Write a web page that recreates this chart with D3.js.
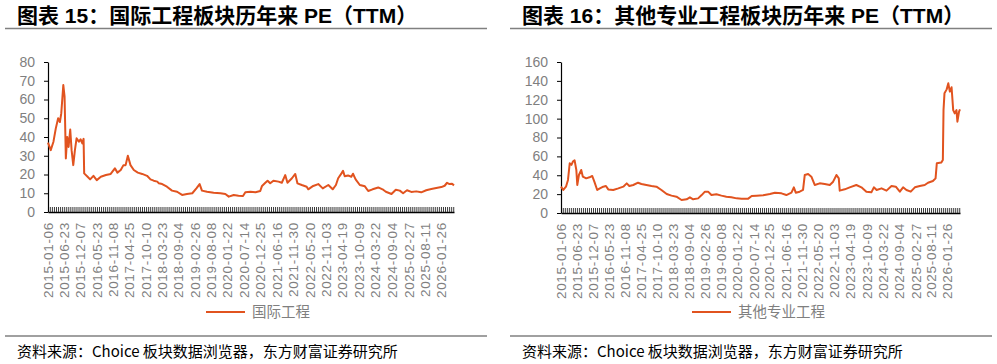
<!DOCTYPE html>
<html>
<head>
<meta charset="utf-8">
<script src="https://cdn.jsdelivr.net/npm/d3@7"></script>
<style>
  html, body { margin: 0; padding: 0; background: #fff; }
  svg { display: block; }
</style>
</head>
<body>
<svg id="chart" width="997" height="364"></svg>
<script>
// ---------------- DATA ----------------
const xTickLabels = [
  "2015-01-06","2015-06-23","2015-12-07","2016-05-23","2016-11-08","2017-04-25",
  "2017-10-10","2018-03-23","2018-09-04","2019-02-26","2019-08-08","2020-01-22",
  "2020-07-14","2020-12-25","2021-06-16","2021-11-30","2022-05-20","2022-11-03",
  "2023-04-19","2023-10-09","2024-03-22","2024-09-04","2025-02-27","2025-08-11",
  "2026-01-26"
];
const dateDomain = ["2015-01-06", "2026-06-01"];

const intlYTicks = [0, 10, 20, 30, 40, 50, 60, 70, 80];
const otherYTicks = [0, 20, 40, 60, 80, 100, 120, 140, 160];

const intlDates = [
  "2015-01-06","2015-02-03","2015-03-03","2015-03-27","2015-04-20","2015-05-08","2015-05-22","2015-06-12",
  "2015-06-25","2015-07-08","2015-07-22","2015-08-05","2015-08-22","2015-09-05","2015-09-22","2015-10-09",
  "2015-10-26","2015-11-19","2015-12-06","2015-12-24","2016-01-06","2016-01-12","2016-02-16","2016-03-13",
  "2016-04-16","2016-05-20","2016-07-01","2016-08-22","2016-10-10","2016-11-22","2016-12-18","2017-01-21",
  "2017-02-18","2017-03-12","2017-04-04","2017-05-01","2017-06-04","2017-07-15","2017-08-29","2017-10-18",
  "2017-11-22","2017-12-25","2018-01-31","2018-02-16","2018-03-22","2018-05-10","2018-07-01","2018-08-22",
  "2018-10-12","2018-12-01","2019-01-25","2019-03-08","2019-04-10","2019-05-04","2019-06-25","2019-09-01",
  "2019-11-10","2019-12-30","2020-02-03","2020-03-25","2020-05-13","2020-06-28","2020-07-22","2020-09-12",
  "2020-11-03","2020-12-22","2021-01-09","2021-02-12","2021-03-07","2021-04-03","2021-05-06","2021-06-27",
  "2021-07-31","2021-09-04","2021-09-27","2021-11-12","2021-12-16","2022-01-07","2022-02-21","2022-04-12",
  "2022-04-28","2022-06-18","2022-08-09","2022-09-24","2022-11-20","2023-01-04","2023-02-06","2023-03-01",
  "2023-04-04","2023-04-20","2023-05-07","2023-06-10","2023-07-14","2023-07-31","2023-08-27","2023-10-09",
  "2023-11-30","2024-01-03","2024-02-17","2024-04-15","2024-05-29","2024-07-02","2024-08-29","2024-10-12",
  "2024-11-22","2024-12-26","2025-02-04","2025-03-20","2025-05-09","2025-06-30","2025-08-20","2025-10-11",
  "2025-12-01","2026-01-22","2026-02-25","2026-03-22","2026-04-15","2026-05-12","2026-06-01"
];
const intlValues = [
  37, 33, 37.5, 44.6, 50, 48, 52.6, 67.7,
  61.5, 28.6, 40, 34.7, 44, 33, 25, 33,
  39.3, 37.5, 38.8, 36.6, 39, 20.6, 18.8, 17.4,
  19.3, 17, 18.8, 19.7, 20.3, 23.3, 21, 22.4,
  25, 25, 30, 25, 22.4, 21, 20.3, 19.3,
  17.4, 16.7, 16.2, 15.3, 14.9, 13.5, 11.4, 10.8,
  9.1, 9.6, 10, 12.6, 14.9, 11.4, 10.8, 10.3,
  10, 9.6, 8.2, 9.1, 8.7, 8.5, 10.5, 10.8,
  10.5, 11.2, 13.9, 15.6, 16.7, 15.3, 16.7, 16.2,
  15.6, 19.7, 15.6, 18, 20.3, 15.3, 14.4, 13.5,
  12.1, 13.9, 14.9, 12.6, 14.4, 12.1, 14.4, 18,
  20.6, 22, 19.1, 19.5, 18.8, 20.4, 17.4, 14.4,
  13.7, 11.2, 12.1, 13.1, 12.1, 10.8, 9.6, 11.9,
  11.4, 10, 11.6, 10.7, 11, 10.5, 11.6, 12.3,
  12.8, 13.3, 14, 15.6, 14.9, 15.1, 14.2
];

const otherDates = [
  "2015-01-06","2015-01-30","2015-02-27","2015-03-20","2015-04-07","2015-04-25","2015-05-10","2015-05-28",
  "2015-06-15","2015-06-25","2015-07-12","2015-08-05","2015-08-22","2015-09-26","2015-10-30","2015-11-28",
  "2015-12-20","2016-01-19","2016-02-16","2016-03-22","2016-04-19","2016-05-13","2016-07-04","2016-08-26",
  "2016-10-17","2016-11-22","2016-12-19","2017-01-29","2017-03-20","2017-04-24","2017-06-15","2017-08-07",
  "2017-09-28","2017-11-19","2018-01-13","2018-03-04","2018-04-25","2018-06-17","2018-08-09","2018-09-12",
  "2018-10-16","2018-12-07","2019-01-13","2019-02-16","2019-03-21","2019-04-25","2019-06-16","2019-08-07",
  "2019-09-28","2019-11-19","2020-01-13","2020-03-04","2020-05-13","2020-06-18","2020-08-09","2020-10-16",
  "2020-12-25","2021-02-15","2021-04-25","2021-06-15","2021-08-07","2021-09-01","2021-09-21","2021-11-01",
  "2021-12-06","2021-12-24","2022-01-28","2022-03-03","2022-04-07","2022-05-29","2022-07-20","2022-09-11",
  "2022-10-16","2022-11-20","2022-12-14","2022-12-24","2023-02-14","2023-04-07","2023-06-15","2023-08-07",
  "2023-09-28","2023-11-19","2023-12-15","2024-01-13","2024-03-04","2024-04-25","2024-06-16","2024-07-31",
  "2024-09-11","2024-10-15","2024-11-19","2025-01-03","2025-02-15","2025-04-07","2025-05-29","2025-07-02",
  "2025-08-22","2025-09-19","2025-10-02","2025-11-17","2025-12-04","2025-12-11","2025-12-21","2026-01-13",
  "2026-01-30","2026-02-15","2026-03-05","2026-03-22","2026-04-07","2026-04-25","2026-05-05","2026-05-22",
  "2026-06-01"
];
const otherValues = [
  27.9, 24.4, 27.9, 35, 52.7, 51, 54.4, 55.8,
  45.6, 29.7, 40.3, 45.6, 38.5, 36.7, 37.8, 39.2,
  33.2, 24.4, 26.1, 27.9, 28.6, 25, 24.4, 26.1,
  27.9, 31.4, 28.6, 29.7, 32.1, 30.7, 29.7, 28.6,
  27.9, 24.4, 20.1, 18.4, 17.3, 13.8, 14.5, 16.6,
  14.5, 15.5, 19, 22.6, 22.6, 19, 19.8, 18.4,
  17.3, 16.6, 15.5, 15.2, 15.2, 18, 18.4, 18.7,
  20.1, 21.5, 20.8, 19, 21.5, 27.2, 21.5, 22.6,
  24.4, 40.3, 41.3, 38.5, 29.7, 31.4, 30.7, 29.7,
  33.2, 40.3, 36.7, 23.7, 25.1, 27.2, 29.7, 27.2,
  22.6, 21.9, 27.2, 24.4, 26.1, 23.7, 28.6, 27.9,
  22.6, 27.2, 24.4, 22.6, 27.2, 28.6, 29.7, 32.1,
  33.9, 36.7, 52.7, 53.4, 56.1, 109, 126.8, 131,
  137.4, 128.6, 133.2, 109, 105.6, 109, 96.8, 107.5,
  109.9
];

// ---------------- DRAWING ----------------
const parse = d3.timeParse("%Y-%m-%d");
const svg = d3.select("#chart");
svg.append("rect").attr("width", 997).attr("height", 364).attr("fill", "#fff");

const LINE_COLOR = "#e1531f";
const GRAY = "#7f7f7f";
const LATIN = "'Liberation Sans', Arial, 'Noto Sans CJK SC', sans-serif";
const CJK = "'Noto Sans CJK SC', 'Liberation Sans', sans-serif";

function drawPanel(o) {
  const g = svg.append("g");

  // title
  g.append("text")
    .attr("x", o.titleX).attr("y", 22.5)
    .attr("font-family", LATIN).attr("font-weight", "bold")
    .attr("font-size", 21).attr("fill", "#000")
    .text(o.title);
  g.append("line")
    .attr("x1", o.ruleX0).attr("x2", o.ruleX1).attr("y1", 28.5).attr("y2", 28.5)
    .attr("stroke", "#808080").attr("stroke-width", 1.5);

  // scales
  const x = d3.scaleTime()
    .domain(dateDomain.map(parse))
    .range([o.x0, o.x1]);
  const y = d3.scaleLinear()
    .domain([0, o.yMax])
    .range([o.yBottom, o.yTop]);

  // y axis
  const yAxis = g.append("g")
    .attr("transform", `translate(${o.x0},0)`)
    .call(d3.axisLeft(y).tickValues(o.yTicks).tickSizeOuter(0).tickSizeInner(4).tickPadding(9));
  yAxis.select(".domain").attr("stroke", "#000").attr("stroke-width", 1.2);
  yAxis.selectAll(".tick line").attr("stroke", "#000");
  yAxis.selectAll(".tick text")
    .attr("font-family", LATIN).attr("font-size", 14).attr("fill", GRAY);

  // x axis: dense inner ticks
  const denseTicks = d3.timeWeek.every(3).range(parse(dateDomain[0]), parse(dateDomain[1]));
  const xAxis = g.append("g")
    .attr("transform", `translate(0,${o.yBottom})`)
    .call(d3.axisBottom(x).tickValues(denseTicks).tickSizeOuter(0).tickSizeInner(-5).tickFormat(""));
  xAxis.select(".domain").attr("stroke", "#000").attr("stroke-width", 1.5);
  xAxis.selectAll(".tick line").attr("stroke", "#3a3a3a").attr("stroke-width", 1);

  // x labels (rotated)
  g.append("g").selectAll("text")
    .data(xTickLabels)
    .join("text")
    .attr("transform", d => `translate(${x(parse(d)) + 4.5},${o.yBottom + 10}) rotate(-90)`)
    .attr("text-anchor", "end")
    .attr("font-family", LATIN).attr("font-size", 13.5)
    .attr("letter-spacing", 0.7)
    .attr("fill", GRAY)
    .text(d => d);

  // series line
  const pts = o.dates.map((d, i) => [parse(d), o.values[i]]);
  g.append("path")
    .datum(pts)
    .attr("fill", "none")
    .attr("stroke", LINE_COLOR)
    .attr("stroke-width", 2)
    .attr("stroke-linejoin", "round")
    .attr("d", d3.line().x(d => x(d[0])).y(d => y(d[1])));

  // legend
  g.append("line")
    .attr("x1", o.legX).attr("x2", o.legX + 39).attr("y1", 312).attr("y2", 312)
    .attr("stroke", LINE_COLOR).attr("stroke-width", 2);
  g.append("text")
    .attr("x", o.legX + 46).attr("y", 317)
    .attr("font-family", CJK).attr("font-size", 14.5).attr("fill", GRAY)
    .text(o.name);

  // bottom rule & source
  g.append("line")
    .attr("x1", o.ruleX0).attr("x2", o.ruleX1).attr("y1", 336).attr("y2", 336)
    .attr("stroke", "#808080").attr("stroke-width", 1.5);
  g.append("text")
    .attr("x", o.titleX).attr("y", 357)
    .attr("font-family", CJK).attr("font-size", 15).attr("fill", "#000")
    .text("资料来源：Choice 板块数据浏览器，东方财富证券研究所");
}

drawPanel({
  title: "图表 15：国际工程板块历年来 PE（TTM）",
  name: "国际工程",
  titleX: 17, ruleX0: 5, ruleX1: 487,
  x0: 48, x1: 454, yTop: 62, yBottom: 212, yMax: 80, yTicks: intlYTicks,
  dates: intlDates, values: intlValues, legX: 206
});

drawPanel({
  title: "图表 16：其他专业工程板块历年来 PE（TTM）",
  name: "其他专业工程",
  titleX: 522, ruleX0: 510, ruleX1: 992,
  x0: 561, x1: 960, yTop: 62, yBottom: 213, yMax: 160, yTicks: otherYTicks,
  dates: otherDates, values: otherValues, legX: 692
});
</script>
</body>
</html>
